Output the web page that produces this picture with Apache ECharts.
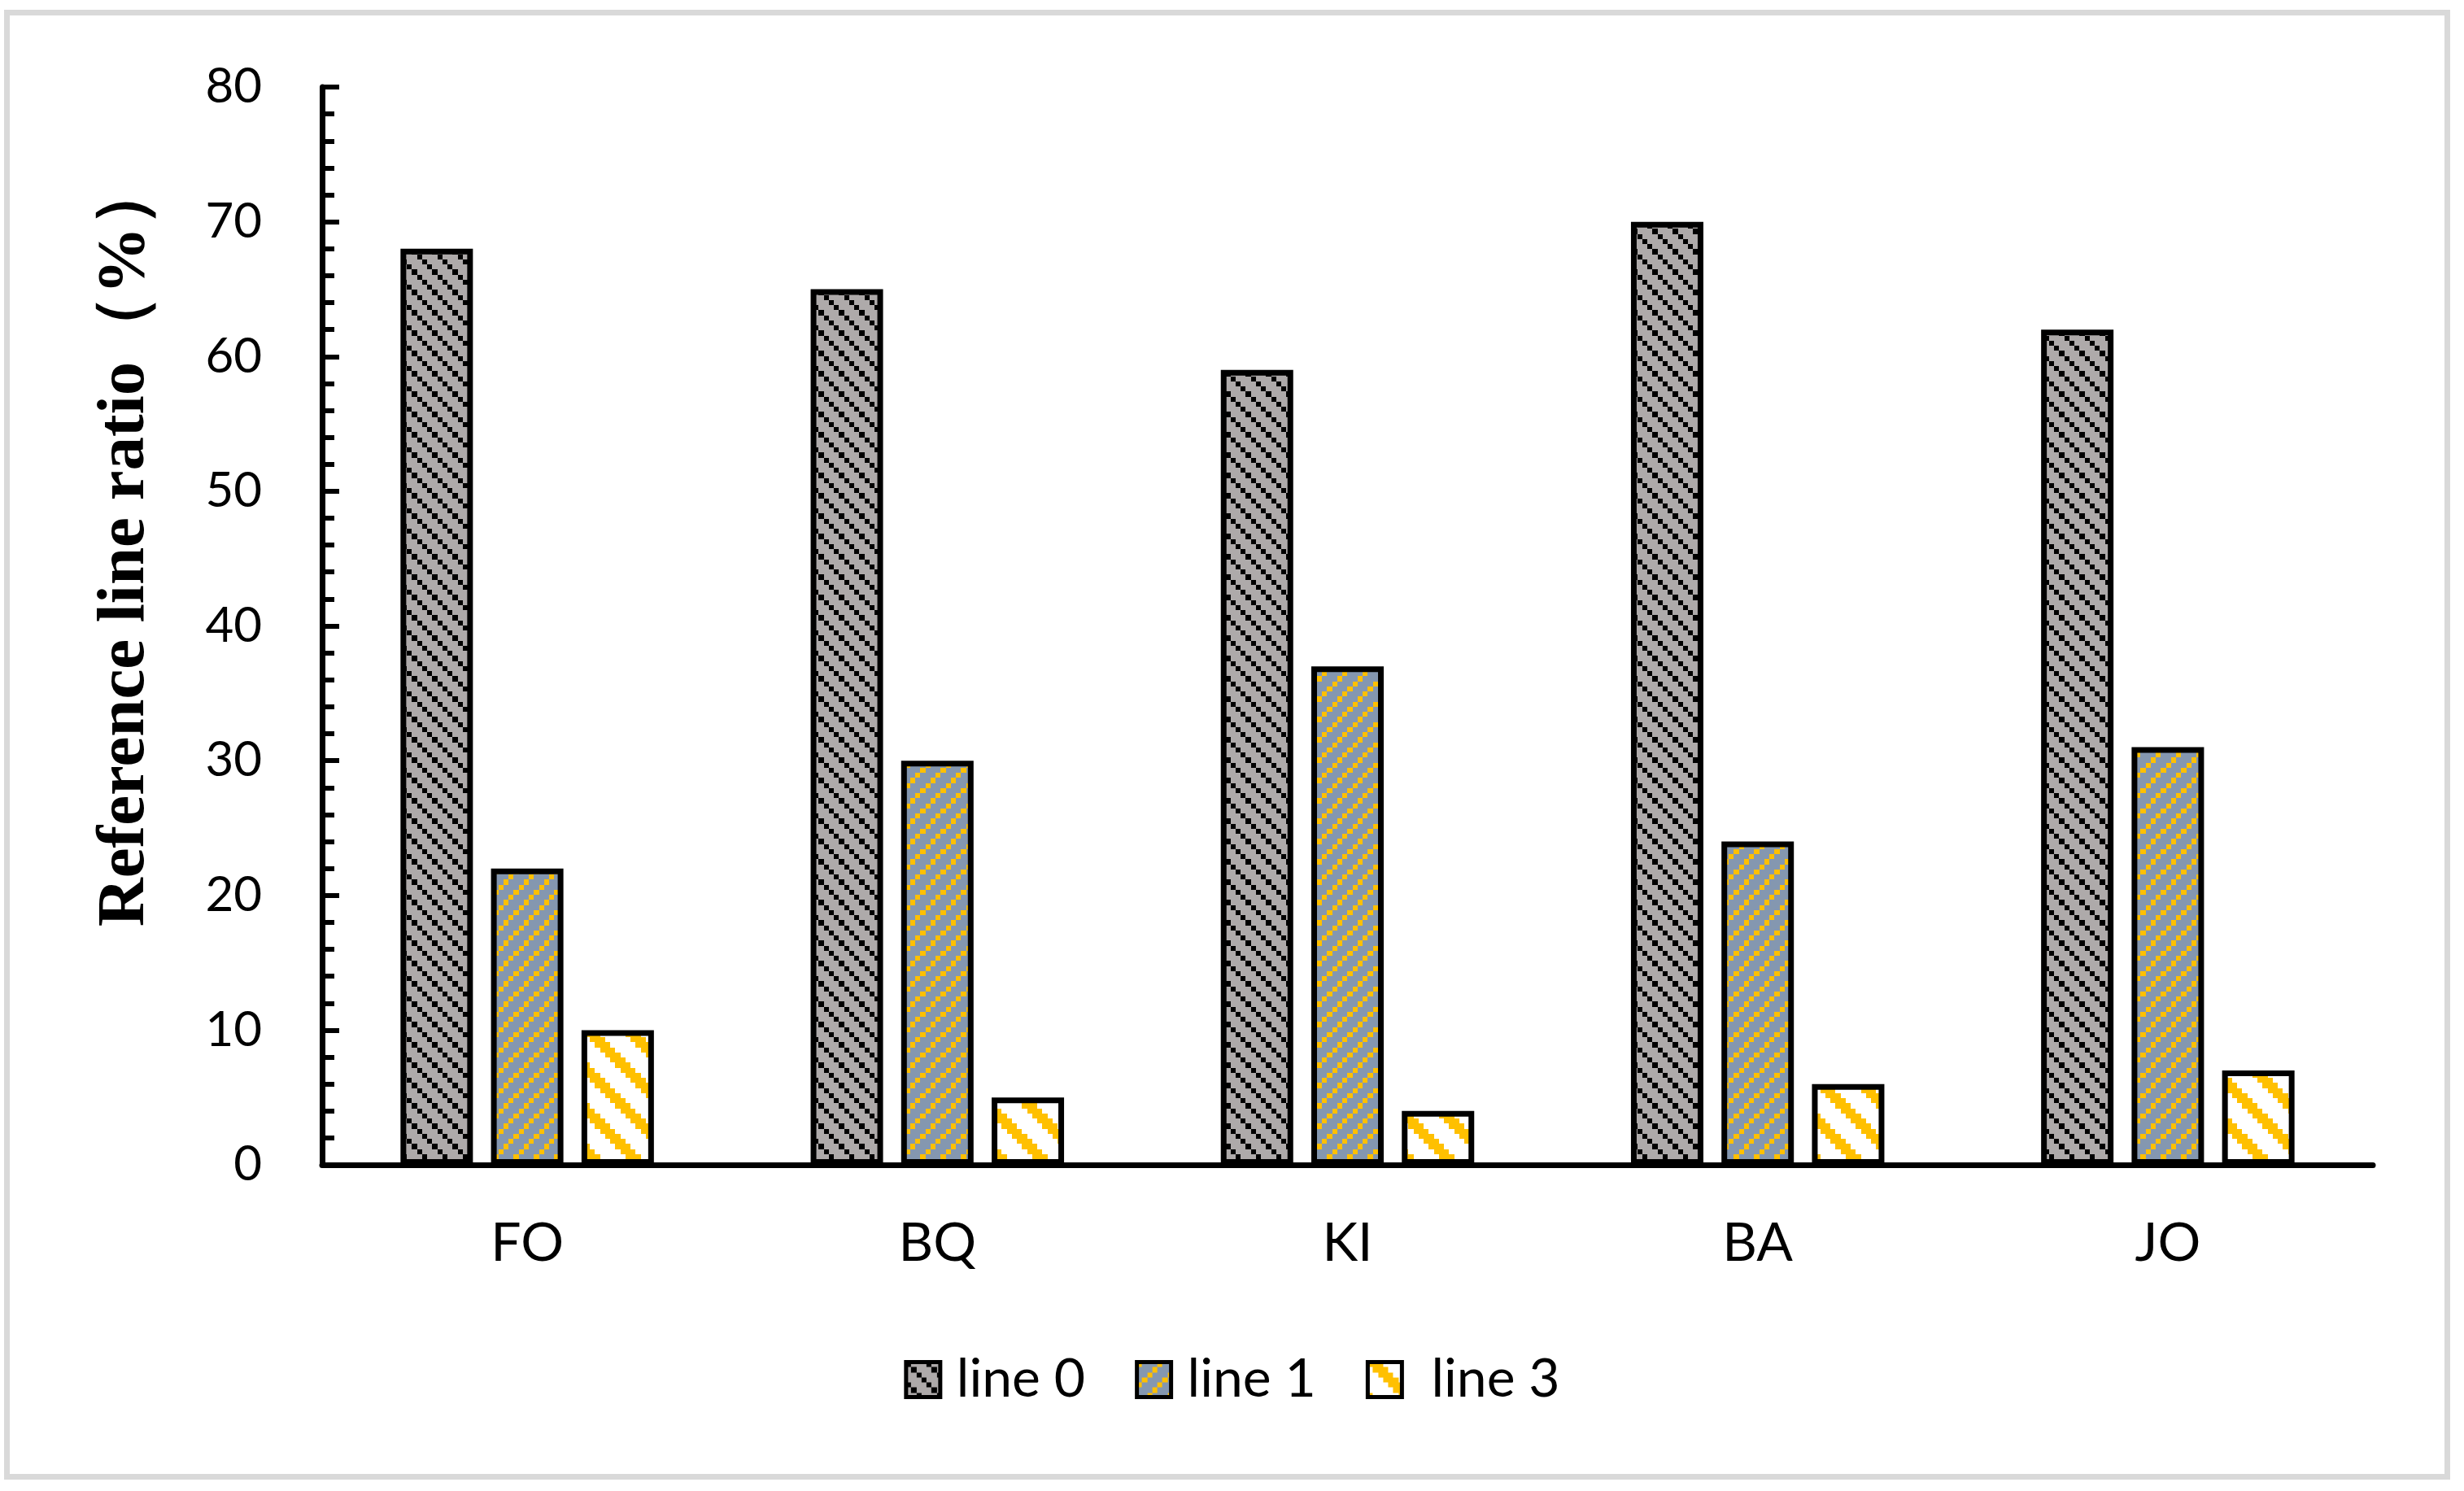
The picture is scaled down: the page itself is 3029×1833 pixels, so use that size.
<!DOCTYPE html>
<html>
<head>
<meta charset="utf-8">
<script src="https://cdn.jsdelivr.net/npm/echarts@6/dist/echarts.min.js"></script>
<style>
html,body{margin:0;padding:0;background:#fff;}
#chart{width:3029px;height:1833px;}
</style>
</head>
<body>
<div id="chart"></div>
<script>
const categories = ['FO', 'BQ', 'KI', 'BA', 'JO'];
const seriesNames = ['line 0', 'line 1', 'line 3'];
const line0 = [68, 65, 59, 70, 62];
const line1 = [22, 30, 37, 24, 31];
const line3 = [10, 5, 4, 6, 7];
const yMin = 0, yMax = 80, yInterval = 10;
const yTitle = 'Reference line ratio（%）';

function makeTile(size, cells, bg, fg, test) {
  const c = document.createElement('canvas');
  c.width = size; c.height = size;
  const ctx = c.getContext('2d');
  ctx.fillStyle = bg; ctx.fillRect(0, 0, size, size);
  ctx.fillStyle = fg;
  const b = i => Math.round(i * size / cells);
  for (let i = 0; i < cells; i++) {
    for (let j = 0; j < cells; j++) {
      if (test(i, j)) ctx.fillRect(b(i), b(j), b(i + 1) - b(i), b(j + 1) - b(j));
    }
  }
  return c;
}
const mod = (a, n) => ((a % n) + n) % n;
const pat0 = makeTile(25, 4, '#AEAAAA', '#000000', (i, j) => mod(i - j, 4) === 0);
const pat1 = makeTile(25, 4, '#8497B0', '#FFC000', (i, j) => mod(i + j, 4) === 0);
const pat3 = makeTile(50, 8, '#FFFFFF', '#FFC000', (i, j) => mod(i - j, 8) < 3);

const patterns = [pat0, pat1, pat3];
const values = [line0, line1, line3];

const chart = echarts.init(document.getElementById('chart'), null, {renderer: 'canvas'});
chart.setOption({
  backgroundColor: '#fff',
  animation: false,
  graphic: [{
    type: 'rect',
    shape: {x: 8.5, y: 15.5, width: 3000, height: 1800},
    style: {fill: 'none', stroke: '#D9D9D9', lineWidth: 7},
    silent: true,
    z: -1
  }],
  grid: {left: 396, right: 112, top: 107, bottom: 401, containLabel: false},
  legend: {
    data: [
      {name: seriesNames[0]},
      {name: seriesNames[1]},
      {name: seriesNames[2], textStyle: {padding: [0, 0, 0, 31]}}
    ],
    left: 'center',
    top: 1658,
    icon: 'rect',
    itemWidth: 42,
    itemHeight: 43,
    itemGap: 61,
    itemStyle: {borderWidth: 5, borderColor: '#000'},
    textStyle: {fontFamily: 'Lato', fontSize: 66, color: '#000', padding: [0, 0, 0, 15]}
  },
  xAxis: {
    type: 'category',
    data: categories,
    axisLine: {show: true, lineStyle: {color: '#000', width: 7}},
    axisTick: {show: false},
    axisLabel: {fontFamily: 'Lato', fontSize: 66, color: '#000', margin: 64},
    splitLine: {show: false}
  },
  yAxis: {
    type: 'value',
    min: yMin, max: yMax, interval: yInterval,
    axisLine: {show: true, lineStyle: {color: '#000', width: 7}},
    axisTick: {show: true, inside: true, length: 21, lineStyle: {color: '#000', width: 6}},
    minorTick: {show: true, splitNumber: 5, length: 15, lineStyle: {color: '#000', width: 6}},
    splitLine: {show: false},
    axisLabel: {fontFamily: 'Lato', fontSize: 60, color: '#000', margin: 74},
    name: yTitle,
    nameLocation: 'middle',
    nameGap: 200,
    nameRotate: 90,
    nameTextStyle: {
      fontFamily: "'Liberation Serif', 'Times New Roman', serif",
      fontWeight: 'bold', fontSize: 83, color: '#000',
      padding: [0, 0, 0, 204]
    }
  },
  series: seriesNames.map((name, k) => ({
    name: name,
    type: 'bar',
    data: values[k],
    barWidth: 89,
    barGap: '25%',
    itemStyle: {
      color: {image: patterns[k], repeat: 'repeat'},
      borderColor: '#000',
      borderWidth: 7
    }
  }))
});
</script>
</body>
</html>
